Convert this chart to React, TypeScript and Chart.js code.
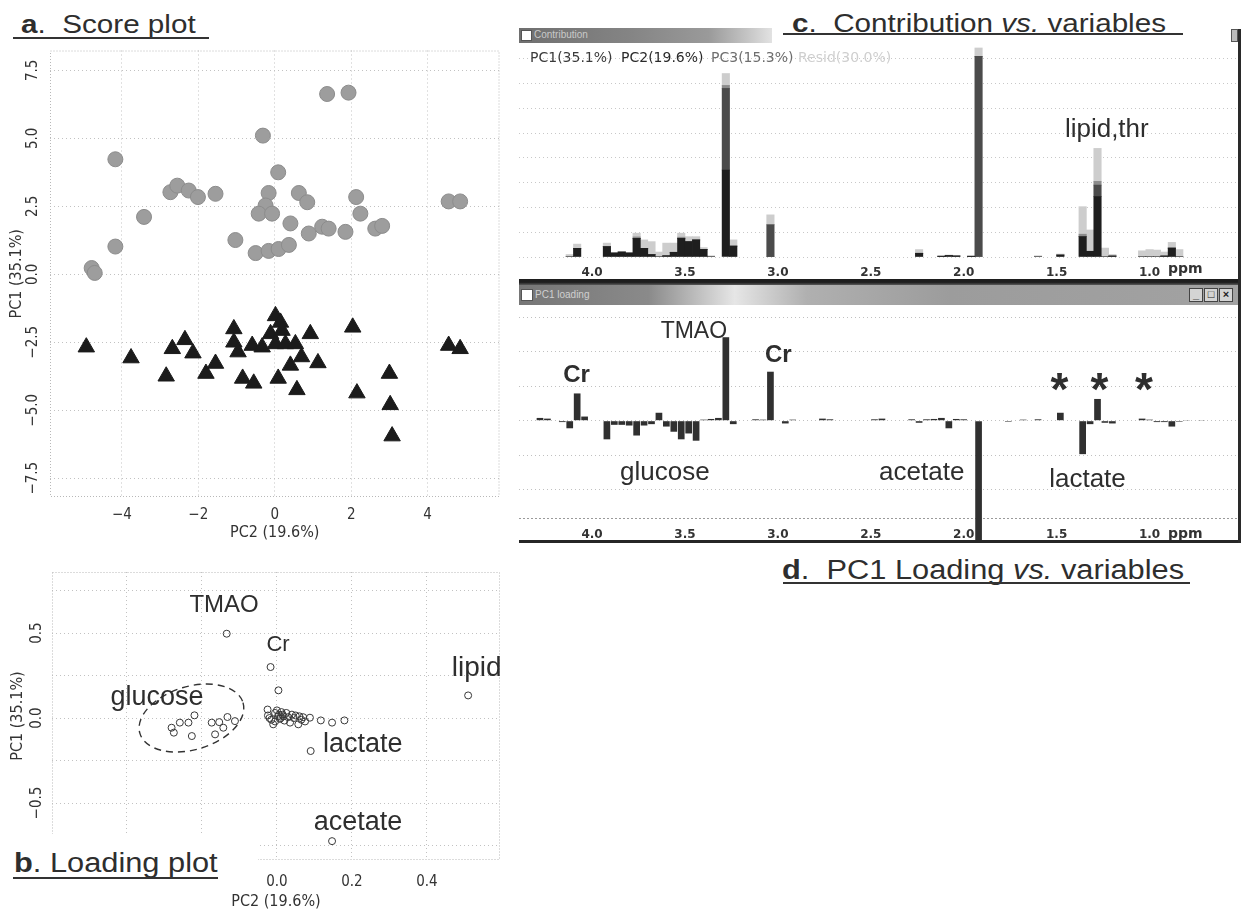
import React, { useEffect, useRef } from 'react';
import { Chart, registerables } from 'chart.js';

Chart.register(...registerables);

// ---------- Panel a: score plot ----------
const SCORE_CIRCLE_X = [1.37, 1.93, -0.31, -4.17, 0.09, -2.73, -2.55, -2.25, -2.01, -1.55, -0.16, 0.63, 0.85, 2.13, 2.24, 4.55, 4.85, -3.42, -0.24, -0.42, -0.07, 0.41, 0.89, 1.24, 1.41, 1.85, 2.63, 2.81, -1.03, -0.5, -0.16, 0.1, 0.37, -4.17, -4.79, -4.71];
const SCORE_CIRCLE_Y = [6.63, 6.68, 5.1, 4.23, 3.75, 3.02, 3.26, 3.08, 2.84, 2.96, 2.99, 2.99, 2.65, 2.84, 2.23, 2.68, 2.68, 2.11, 2.53, 2.23, 2.23, 1.87, 1.5, 1.75, 1.68, 1.56, 1.68, 1.78, 1.26, 0.78, 0.86, 0.93, 1.08, 1.02, 0.23, 0.05];
const SCORE_TRI_X = [-4.93, -3.76, -2.84, -2.68, -2.35, -2.14, -1.8, -1.55, -1.07, -1.07, -0.96, -0.84, -0.55, -0.59, -0.33, -0.11, 0.02, 0.15, 0.19, 0.02, 0.28, 0.54, 0.09, 0.41, 0.58, 0.7, 0.93, 1.13, 2.04, 2.15, 3.0, 3.02, 3.07, 4.55, 4.85];
const SCORE_TRI_Y = [-2.68, -3.08, -3.75, -2.74, -2.41, -2.9, -3.65, -3.28, -2.01, -2.5, -2.86, -3.83, -4.01, -2.62, -2.68, -2.19, -1.53, -1.77, -2.07, -2.56, -2.56, -2.56, -3.83, -3.35, -4.25, -3.04, -2.19, -3.26, -1.95, -4.37, -3.65, -4.8, -5.95, -2.62, -2.74];
const SCORE_X_TICKS = [-4, -2, 0, 2, 4];
const SCORE_Y_TICKS = [-7.5, -5, -2.5, 0, 2.5, 5, 7.5];

// ---------- Panel b: loading plot ----------
const LOAD_X = [-0.134, -0.017, 0.004, 0.51, 0.09, 0.147,
  -0.281, -0.275, -0.259, -0.236, -0.22, -0.227, -0.174, -0.165, -0.154, -0.143, -0.132, -0.112,
  -0.025, -0.024, -0.015, -0.01, -0.005, 0.0, 0.005, 0.01, 0.012, 0.018, 0.02, 0.025, 0.03, 0.035, 0.04, 0.045, 0.05, 0.057, 0.06, 0.065, 0.07, -0.02, -0.005, 0.003, 0.008, 0.015, 0.088, 0.117, 0.147, 0.18, 0.075];
const LOAD_Y = [0.496, 0.3, 0.163, 0.133, -0.194, -0.724,
  -0.057, -0.086, -0.027, -0.027, 0.016, -0.106, -0.027, -0.096, -0.024, -0.057, 0.006, -0.018,
  0.05, 0.015, -0.01, -0.037, 0.03, 0.045, 0.02, 0.0, 0.035, 0.01, -0.015, 0.03, 0.005, -0.027, 0.02, 0.0, 0.015, -0.037, 0.01, -0.01, 0.005, 0.0, -0.02, 0.01, -0.005, 0.02, 0.002, -0.014, -0.027, -0.014, -0.02];
const LOAD_X_TICKS = [-0.4, -0.2, 0, 0.2, 0.4];
const LOAD_Y_TICKS = [-0.75, -0.5, -0.25, 0, 0.25, 0.5, 0.75];
const LOAD_Y_LABELED = [-0.5, 0, 0.5];
const LOAD_NOTE_TEXT = ['TMAO', 'Cr', 'lipid', 'glucose', 'lactate', 'acetate'];
const LOAD_NOTE_X = [-0.141, 0.003, 0.533, -0.32, 0.229, 0.216];
const LOAD_NOTE_Y = [0.661, 0.431, 0.29, 0.119, -0.157, -0.616];
const LOAD_NOTE_SIZE = [24, 22, 28, 27, 27, 27];
// glucose region outline (data units)
const GLU_CENTER = [-0.228, 0.0];
const GLU_RADII = [0.1435, 0.186];
const GLU_TILT = -0.29;

// ---------- Panel c: contribution vs variables ----------
const CONTRIB_PPM = [4.12, 4.08, 3.92, 3.88, 3.84, 3.8, 3.76, 3.72, 3.68, 3.64, 3.6, 3.56, 3.52, 3.48, 3.44, 3.4, 3.36, 3.28, 3.24, 3.04, 2.24, 2.12, 2.08, 2.04, 1.96, 1.92, 1.6, 1.48, 1.36, 1.32, 1.28, 1.24, 1.2, 1.04, 1.0, 0.96, 0.92, 0.88, 0.84];
const CONTRIB_PC1 = [0, 0.35, 0.42, 0.16, 0.2, 0.16, 0.75, 0.35, 0.1, 0, 0.05, 0.19, 0.75, 0.62, 0.69, 0.31, 0, 3.51, 0.44, 0, 0.15, 0.03, 0.06, 0.04, 0.03, 0, 0, 0.08, 0.82, 0.23, 2.44, 0, 0.04, 0, 0, 0, 0.04, 0.36, 0];
const CONTRIB_PC2 = [0, 0, 0, 0, 0, 0, 0, 0, 0, 0, 0, 0, 0, 0, 0, 0, 0, 3.29, 0, 1.3, 0, 0, 0, 0, 0, 8.09, 0, 0, 0, 0, 0.46, 0, 0, 0, 0, 0, 0, 0, 0];
const CONTRIB_PC3 = [0, 0, 0, 0, 0, 0, 0.06, 0, 0, 0, 0, 0, 0.05, 0, 0, 0, 0, 0.12, 0, 0, 0, 0, 0, 0, 0, 0, 0, 0, 0.1, 0, 0.15, 0, 0, 0, 0, 0, 0, 0, 0];
const CONTRIB_RESID = [0.1, 0.17, 0.14, 0.02, 0.02, 0.02, 0.15, 0.34, 0.52, 0.2, 0.51, 0.37, 0.16, 0.2, 0.13, 0.07, 0.05, 0.48, 0.25, 0.4, 0.15, 0.03, 0.02, 0.02, 0.02, 0.34, 0.05, 0.04, 1.11, 0.86, 1.33, 0.36, 0.06, 0.25, 0.3, 0.28, 0.16, 0.23, 0.3];
const CONTRIB_LEGEND = ['PC1(35.1%)', 'PC2(19.6%)', 'PC3(15.3%)', 'Resid(30.0%)'];
const CONTRIB_GRID = [1, 2, 3, 4, 5, 6, 7, 8];

// ---------- Panel d: PC1 loading vs variables ----------
const PC1_PPM = [4.28, 4.24, 4.16, 4.12, 4.08, 4.04, 3.92, 3.88, 3.84, 3.8, 3.76, 3.72, 3.68, 3.64, 3.6, 3.56, 3.52, 3.48, 3.44, 3.4, 3.36, 3.32, 3.28, 3.24, 3.12, 3.08, 3.04, 2.96, 2.92, 2.76, 2.72, 2.48, 2.44, 2.28, 2.24, 2.2, 2.16, 2.12, 2.08, 2.04, 2.0, 1.92, 1.76, 1.68, 1.6, 1.48, 1.36, 1.32, 1.28, 1.24, 1.2, 1.04, 1.0, 0.96, 0.92, 0.88, 0.84, 0.8, 0.72];
const PC1_LOADING = [0.008, 0.006, -0.004, -0.022, 0.079, 0.012, -0.054, -0.012, -0.012, -0.014, -0.043, -0.014, -0.01, 0.023, -0.017, -0.032, -0.054, -0.037, -0.058, 0.003, 0.005, 0.008, 0.242, -0.01, 0.004, 0.003, 0.142, -0.008, 0.003, 0.006, 0.004, 0.004, 0.006, 0.004, -0.006, 0.004, 0.005, 0.008, -0.022, 0.005, 0.004, -0.4, -0.003, 0.003, 0.004, 0.023, -0.097, -0.01, 0.063, -0.006, -0.008, 0.006, 0.003, -0.004, -0.004, -0.017, -0.003, 0.002, 0.002];
const PC1_GRID = [-0.2, -0.1, 0, 0.1, 0.2, 0.3];
const PPM_TICKS = [4.0, 3.5, 3.0, 2.5, 2.0, 1.5, 1.0];
const PC1_NOTE_TEXT = ['TMAO', 'Cr', 'Cr', 'glucose', 'acetate', 'lactate', '*', '*', '*'];
const PC1_NOTE_X = [3.452, 4.083, 2.998, 3.608, 2.226, 1.334, 1.485, 1.27, 1.03];
const PC1_NOTE_Y = [0.258, 0.132, 0.19, -0.151, -0.151, -0.172, 0.045, 0.045, 0.045];

const SANS = "'Liberation Sans', Arial, Helvetica, sans-serif";
const COND = "'DejaVu Sans Condensed', 'DejaVu Sans', sans-serif";
const DJV = "'DejaVu Sans', sans-serif";
const INK = '#2e2e2e';

const minus = (s: string) => s.replace('-', '\u2212');

const framePlugin = {
  id: 'dottedFrame',
  beforeDatasetsDraw(chart: any) {
    const { ctx, chartArea: a } = chart;
    ctx.save();
    ctx.strokeStyle = '#b8b8b8';
    ctx.lineWidth = 1;
    ctx.setLineDash([1, 2]);
    ctx.strokeRect(a.left + 0.5, a.top + 0.5, a.width - 1, a.height - 1);
    ctx.restore();
  },
};

const bottomLinePlugin = {
  id: 'bottomLine',
  beforeDatasetsDraw(chart: any) {
    const { ctx, chartArea: a } = chart;
    ctx.save();
    ctx.strokeStyle = '#9a9a9a';
    ctx.lineWidth = 1;
    ctx.setLineDash([2, 2]);
    ctx.beginPath();
    ctx.moveTo(a.left, a.bottom - 0.5);
    ctx.lineTo(a.right, a.bottom - 0.5);
    ctx.stroke();
    ctx.restore();
  },
};

const rotatedYTicks = (values: number[], cx: number) => ({
  id: 'rotatedYTicks',
  afterDraw(chart: any) {
    const { ctx } = chart;
    const y = chart.scales.y;
    ctx.save();
    ctx.fillStyle = '#333';
    ctx.font = `15px ${COND}`;
    ctx.textAlign = 'center';
    ctx.textBaseline = 'middle';
    values.forEach((v) => {
      ctx.save();
      ctx.translate(cx, y.getPixelForValue(v));
      ctx.rotate(-Math.PI / 2);
      ctx.fillText(minus(v.toFixed(1)), 0, 0);
      ctx.restore();
    });
    ctx.restore();
  },
});

type Note = { text: string; x: number; y: number; font: string; baseline?: CanvasTextBaseline };
const notesPlugin = (notes: Note[]) => ({
  id: 'notes',
  afterDatasetsDraw(chart: any) {
    const { ctx, scales } = chart;
    ctx.save();
    ctx.fillStyle = INK;
    ctx.textAlign = 'center';
    notes.forEach((n) => {
      ctx.font = n.font;
      ctx.textBaseline = n.baseline || 'middle';
      ctx.fillText(n.text, scales.x.getPixelForValue(n.x), scales.y.getPixelForValue(n.y));
    });
    ctx.restore();
  },
});

const ellipsePlugin = {
  id: 'glucoseEllipse',
  afterDatasetsDraw(chart: any) {
    const { ctx, scales } = chart;
    const { x, y } = scales;
    const cx = x.getPixelForValue(GLU_CENTER[0]);
    const cy = y.getPixelForValue(GLU_CENTER[1]);
    const rx = Math.abs(x.getPixelForValue(GLU_CENTER[0] + GLU_RADII[0]) - cx);
    const ry = Math.abs(y.getPixelForValue(GLU_CENTER[1] + GLU_RADII[1]) - cy);
    ctx.save();
    ctx.strokeStyle = '#333';
    ctx.lineWidth = 1.4;
    ctx.setLineDash([7, 5]);
    ctx.beginPath();
    ctx.ellipse(cx, cy, rx, ry, GLU_TILT, 0, Math.PI * 2);
    ctx.stroke();
    ctx.restore();
  },
};

const gridStyle = { color: '#c2c2c2', drawTicks: false, lineWidth: 1 };
const dotted = { display: false, dash: [1, 3] };

function makeScore(canvas: HTMLCanvasElement) {
  return new Chart(canvas, {
    type: 'scatter',
    data: {
      datasets: [
        {
          data: SCORE_CIRCLE_X.map((x, i) => ({ x, y: SCORE_CIRCLE_Y[i] })),
          pointStyle: 'circle', pointRadius: 7.5,
          backgroundColor: '#9d9d9d', borderColor: '#8c8c8c', borderWidth: 1,
        },
        {
          data: SCORE_TRI_X.map((x, i) => ({ x, y: SCORE_TRI_Y[i] })),
          pointStyle: 'triangle', pointRadius: 9.5,
          backgroundColor: '#1b1b1b', borderColor: '#1b1b1b', borderWidth: 1,
        },
      ],
    },
    options: {
      animation: false, responsive: false, events: [],
      layout: { padding: { top: 7, right: 10, bottom: 0, left: 0 } },
      plugins: { legend: { display: false }, tooltip: { enabled: false } },
      scales: {
        x: {
          type: 'linear', min: -5.88, max: 5.88,
          afterBuildTicks: (s: any) => { s.ticks = SCORE_X_TICKS.map((v) => ({ value: v })); },
          afterFit: (s: any) => { s.height = 45; },
          grid: gridStyle, border: dotted,
          ticks: { padding: 9, color: '#333', font: { family: COND, size: 15 }, callback: (v: any) => minus(String(v)) },
          title: { display: true, text: 'PC2 (19.6%)', color: '#333', font: { family: COND, size: 16 }, padding: { top: 0, bottom: 0 } },
        },
        y: {
          type: 'linear', min: -8.19, max: 8.23,
          afterBuildTicks: (s: any) => { s.ticks = SCORE_Y_TICKS.map((v) => ({ value: v })); },
          afterFit: (s: any) => { s.width = 50; },
          grid: gridStyle, border: dotted,
          ticks: { display: false },
          title: { display: true, text: 'PC1 (35.1%)', color: '#333', font: { family: COND, size: 16 }, padding: { top: 7.4, bottom: 0 } },
        },
      },
    } as any,
    plugins: [framePlugin, rotatedYTicks(SCORE_Y_TICKS, 33)],
  });
}

function makeLoading(canvas: HTMLCanvasElement) {
  const notes: Note[] = LOAD_NOTE_TEXT.map((t, i) => ({ text: t, x: LOAD_NOTE_X[i], y: LOAD_NOTE_Y[i], font: `${LOAD_NOTE_SIZE[i]}px ${SANS}` }));
  return new Chart(canvas, {
    type: 'scatter',
    data: {
      datasets: [
        {
          data: LOAD_X.map((x, i) => ({ x, y: LOAD_Y[i] })),
          pointStyle: 'circle', pointRadius: 3.5,
          backgroundColor: 'rgba(255,255,255,0)', borderColor: '#383838', borderWidth: 1,
        },
      ],
    },
    options: {
      animation: false, responsive: false, events: [],
      layout: { padding: { top: 7, right: 10, bottom: 0, left: 0 } },
      plugins: { legend: { display: false }, tooltip: { enabled: false } },
      scales: {
        x: {
          type: 'linear', min: -0.6, max: 0.595,
          afterBuildTicks: (s: any) => { s.ticks = LOAD_X_TICKS.map((v) => ({ value: v })); },
          afterFit: (s: any) => { s.height = 54; },
          grid: gridStyle, border: dotted,
          ticks: { padding: 13, color: '#333', font: { family: COND, size: 15 }, callback: (v: any) => (Number(v) < 0 ? '' : Number(v).toFixed(1)) },
          title: { display: true, text: 'PC2 (19.6%)', color: '#333', font: { family: COND, size: 16 }, padding: { top: 0, bottom: 2.4 } },
        },
        y: {
          type: 'linear', min: -0.835, max: 0.859,
          afterBuildTicks: (s: any) => { s.ticks = LOAD_Y_TICKS.map((v) => ({ value: v })); },
          afterFit: (s: any) => { s.width = 52; },
          grid: gridStyle, border: dotted,
          ticks: { display: false },
          title: { display: true, text: 'PC1 (35.1%)', color: '#333', font: { family: COND, size: 16 }, padding: { top: 8.4, bottom: 0 } },
        },
      },
    } as any,
    plugins: [framePlugin, ellipsePlugin, notesPlugin(notes), rotatedYTicks(LOAD_Y_LABELED, 37)],
  });
}

const ppmAxis = (height: number, pad: number) => ({
  type: 'linear', reverse: true, min: 0.524, max: 4.393, stacked: true, offset: false,
  afterBuildTicks: (s: any) => { s.ticks = PPM_TICKS.map((v) => ({ value: v })); },
  afterFit: (s: any) => { s.height = height; },
  grid: { display: false, drawTicks: false, offset: false },
  border: { display: false },
  ticks: { padding: pad, color: '#333', autoSkip: false, maxRotation: 0, font: { family: DJV, size: 12, weight: 'bold' }, callback: (v: any) => Number(v).toFixed(1) },
});

function makeContrib(canvas: HTMLCanvasElement) {
  const series = [CONTRIB_PC1, CONTRIB_PC2, CONTRIB_PC3, CONTRIB_RESID];
  const colors = ['#1e1e1e', '#4b4b4b', '#8c8c8c', '#cdcdcd'];
  return new Chart(canvas, {
    type: 'bar',
    data: {
      datasets: series.map((vals, k) => ({
        label: CONTRIB_LEGEND[k],
        data: CONTRIB_PPM.map((x, i) => ({ x, y: vals[i] })),
        backgroundColor: colors[k], borderWidth: 0,
        categoryPercentage: 1, barPercentage: 1,
      })),
    },
    options: {
      animation: false, responsive: false, events: [],
      layout: { padding: 0 },
      plugins: { legend: { display: false }, tooltip: { enabled: false } },
      scales: {
        x: ppmAxis(24, 9),
        y: {
          type: 'linear', min: 0, max: 8.59, stacked: true,
          afterBuildTicks: (s: any) => { s.ticks = [0, ...CONTRIB_GRID].map((v) => ({ value: v })); },
          afterFit: (s: any) => { s.width = 0; },
          grid: { color: '#c8c8c8', drawTicks: false },
          border: { display: false, dash: [1, 3] },
          ticks: { display: false },
        },
      },
    } as any,
    plugins: [notesPlugin([{ text: 'lipid,thr', x: 1.23, y: 5.13, font: `26px ${SANS}` }])],
  });
}

function makePc1(canvas: HTMLCanvasElement) {
  const notes: Note[] = PC1_NOTE_TEXT.map((t, i) => {
    let font = `26px ${SANS}`;
    if (t === 'TMAO') font = `23px ${SANS}`;
    if (t === 'Cr') font = `bold 24px ${SANS}`;
    if (t === '*') font = `bold 46px ${SANS}`;
    return { text: t, x: PC1_NOTE_X[i], y: PC1_NOTE_Y[i], font, baseline: t === '*' ? 'alphabetic' : 'middle' };
  });
  return new Chart(canvas, {
    type: 'bar',
    data: {
      datasets: [{
        label: 'PC1 loading',
        data: PC1_PPM.map((x, i) => ({ x, y: PC1_LOADING[i] })),
        backgroundColor: '#303030', borderWidth: 0,
        categoryPercentage: 1, barPercentage: 0.9, clip: false,
      }],
    },
    options: {
      animation: false, responsive: false, events: [],
      layout: { padding: 0 },
      plugins: { legend: { display: false }, tooltip: { enabled: false } },
      scales: {
        x: ppmAxis(22, 9),
        y: {
          type: 'linear', min: -0.285, max: 0.3354,
          afterBuildTicks: (s: any) => { s.ticks = PC1_GRID.map((v) => ({ value: v })); },
          afterFit: (s: any) => { s.width = 0; },
          grid: { color: '#c0c0c0', drawTicks: false },
          border: { display: false, dash: [1, 3] },
          ticks: { display: false },
        },
      },
    } as any,
    plugins: [bottomLinePlugin, notesPlugin(notes)],
  });
}

function ChartCanvas({ factory, left, top, width, height }: { factory: (c: HTMLCanvasElement) => Chart; left: number; top: number; width: number; height: number }) {
  const ref = useRef<HTMLCanvasElement>(null);
  useEffect(() => {
    const chart = factory(ref.current as HTMLCanvasElement);
    return () => chart.destroy();
  }, [factory]);
  return <canvas ref={ref} width={width} height={height} style={{ position: 'absolute', left, top, width, height }} />;
}

function PanelTitle({ left, top, size, letter, children }: { left: number; top: number; size: number; letter: string; children: React.ReactNode }) {
  return (
    <div style={{ position: 'absolute', left, top, fontFamily: SANS, fontSize: size, lineHeight: `${size}px`, color: INK, whiteSpace: 'pre', transform: 'scaleX(1.14)', transformOrigin: 'left top', zIndex: 5 }}>
      <b>{letter}</b>{children}
    </div>
  );
}

const Rule = ({ left, top, width }: { left: number; top: number; width: number }) => (
  <div style={{ position: 'absolute', left, top, width, height: 2, background: '#333', zIndex: 5 }} />
);

const abs = (s: React.CSSProperties): React.CSSProperties => ({ position: 'absolute', ...s });

export default function App() {
  const legendLeft = [530, 621, 711, 798];
  const legendColor = ['#3a3a3a', '#2a2a2a', '#6e6e6e', '#cfcfcf'];
  return (
    <div style={{ position: 'absolute', left: 0, top: 0, width: 1242, height: 914, background: '#fff', overflow: 'hidden' }}>
      <ChartCanvas factory={makeScore} left={0} top={40} width={510} height={502} />
      <ChartCanvas factory={makeLoading} left={0} top={565} width={510} height={349} />
      <ChartCanvas factory={makeContrib} left={519} top={44} width={719} height={237} />
      <ChartCanvas factory={makePc1} left={519} top={305} width={719} height={236} />

      {/* panel titles */}
      <PanelTitle left={21} top={11.3} size={26} letter="a">{'.  Score plot'}</PanelTitle>
      <Rule left={12.7} top={37.3} width={196} />

      <div style={abs({ left: 0, top: 834, width: 258, height: 50, background: '#fff', zIndex: 4 })} />
      <PanelTitle left={13.5} top={850.1} size={27} letter="b">{'. Loading plot'}</PanelTitle>
      <Rule left={13} top={877} width={205} />

      <PanelTitle left={792} top={9.7} size={26} letter="c">{'.  Contribution '}<i>vs.</i>{' variables'}</PanelTitle>
      <Rule left={783} top={33.3} width={400} />

      <PanelTitle left={782} top={557.1} size={27} letter="d">{'.  PC1 Loading '}<i>vs.</i>{' variables'}</PanelTitle>
      <Rule left={783} top={582.3} width={407} />

      {/* window chrome: contribution */}
      <div style={abs({ left: 519, top: 28, width: 253, height: 15, background: 'linear-gradient(to right, #6f6f6f 0%, #858585 45%, #9a9a9a 75%, #c4c4c4 90%, #e2e2e2 100%)', zIndex: 3 })}>
        <div style={abs({ left: 2, top: 2, width: 9, height: 9, background: '#fff', border: '1px solid #555' })} />
        <div style={abs({ left: 15, top: 1, fontFamily: SANS, fontSize: 10, lineHeight: '12px', color: '#c9c9c9' })}>Contribution</div>
      </div>
      <div style={abs({ left: 1231, top: 29, width: 5, height: 11, background: '#bbb', border: '1px solid #555', zIndex: 3 })} />
      {CONTRIB_LEGEND.map((t, i) => (
        <div key={t} style={abs({ left: legendLeft[i], top: 50, fontFamily: DJV, fontSize: 14, lineHeight: '14px', color: legendColor[i], whiteSpace: 'pre', zIndex: 3 })}>{t}</div>
      ))}
      <div style={abs({ left: 1168, top: 261, fontFamily: DJV, fontWeight: 'bold', fontSize: 14, lineHeight: '14px', color: '#333', zIndex: 3 })}>ppm</div>

      {/* separator + PC1 loading window title bar */}
      <div style={abs({ left: 519, top: 279, width: 722, height: 6, background: 'linear-gradient(to bottom, #1e1e1e 0%, #1e1e1e 55%, #5a5a5a 100%)', zIndex: 3 })} />
      <div style={abs({ left: 519, top: 285, width: 719, height: 20, background: 'linear-gradient(to right, #767676 0%, #8a8a8a 18%, #e6e6e6 30%, #b0b0b0 40%, #9c9c9c 60%, #a2a2a2 100%)', zIndex: 3 })}>
        <div style={abs({ left: 2, top: 4, width: 10, height: 10, background: '#fff', border: '1px solid #555' })} />
        <div style={abs({ left: 16, top: 4, fontFamily: SANS, fontSize: 10, lineHeight: '12px', color: '#d0d0d0' })}>PC1 loading</div>
        {['_', '□', '×'].map((b, i) => (
          <div key={b} style={abs({ left: 670 + i * 15, top: 3, width: 12, height: 12, background: '#d4d4d4', border: '1px solid #444', fontFamily: SANS, fontSize: 11, lineHeight: '11px', textAlign: 'center', color: '#222', fontWeight: 'bold' })}>{b}</div>
        ))}
      </div>
      <div style={abs({ left: 1168, top: 526, fontFamily: DJV, fontWeight: 'bold', fontSize: 14, lineHeight: '14px', color: '#333', zIndex: 3 })}>ppm</div>
      <div style={abs({ left: 519, top: 540, width: 722, height: 3, background: '#262626', zIndex: 3 })} />
      <div style={abs({ left: 1238, top: 29, width: 3, height: 514, background: '#2a2a2a', zIndex: 3 })} />
    </div>
  );
}
